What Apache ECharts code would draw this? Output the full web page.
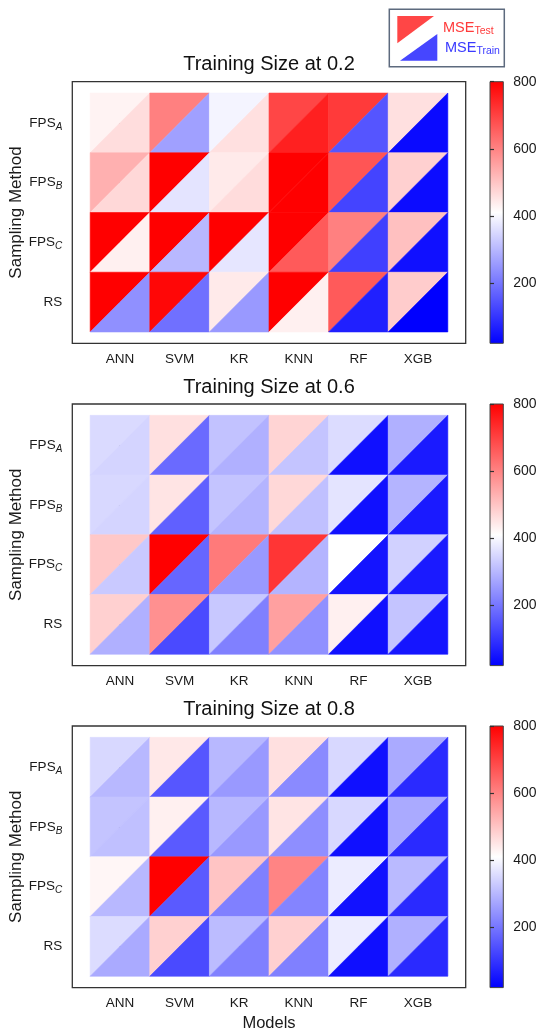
<!DOCTYPE html>
<html>
<head>
<meta charset="utf-8">
<script src="https://cdn.jsdelivr.net/npm/echarts@6/dist/echarts.min.js"></script>
<style>
html,body{margin:0;padding:0;background:#fff;}
#chart{width:542px;height:1030px;}
</style>
</head>
<body>
<div id="chart"></div>
<script>
// ---------- data ----------
const models = ['ANN', 'SVM', 'KR', 'KNN', 'RF', 'XGB'];
const methods = ['FPS_A', 'FPS_B', 'FPS_C', 'RS']; // top to bottom
const colorbarTicks = [200, 400, 600, 800];
const panelTitles = ['Training Size at 0.2', 'Training Size at 0.6', 'Training Size at 0.8'];
const valueMin = 20;
const valueMax = 800;

// rows follow methods order, columns follow models order
const test02 = [
  [428, 604, 393, 693, 711, 457],
  [531, 800, 442, 800, 670, 482],
  [800, 800, 800, 800, 604, 506],
  [800, 790, 442, 800, 662, 488]
];
const train02 = [
  [462, 265, 457, 751, 150, 36],
  [470, 369, 464, 800, 124, 38],
  [433, 302, 372, 662, 118, 45],
  [240, 192, 254, 433, 69, 20]
];
const test06 = [
  [353, 457, 317, 476, 357, 289],
  [350, 451, 320, 470, 369, 295],
  [494, 800, 613, 719, 410, 340],
  [482, 580, 326, 555, 433, 320]
];
const train06 = [
  [344, 182, 289, 320, 45, 59],
  [344, 167, 295, 314, 45, 59],
  [328, 176, 254, 295, 51, 59],
  [289, 133, 215, 240, 45, 52]
];
const test08 = [
  [350, 445, 302, 457, 350, 280],
  [320, 433, 302, 451, 350, 280],
  [424, 800, 500, 598, 381, 305],
  [357, 482, 307, 482, 381, 289]
];
const train08 = [
  [302, 152, 254, 231, 45, 84],
  [314, 157, 254, 237, 45, 84],
  [302, 157, 215, 222, 48, 84],
  [280, 133, 215, 215, 43, 84]
];
const panelTest = [test02, test06, test08];
const panelTrain = [train02, train06, train08];

// ---------- layout ----------
const FONT = 'Liberation Sans, Arial, sans-serif';
const panelTops = [81.7, 404, 726];
const panelH = 261.6;
const frameLeft = 72.3, frameW = 393.4;
const cbLeft = 490, cbW = 13.3;
const TXT = '#1a1a1a';
const AX = '#333333';

function buildCells(test, train) {
  const out = [];
  methods.forEach((m, r) => {
    const y = methods.length - 1 - r;
    models.forEach((md, c) => {
      out.push([c, y, test[r][c], 0]);
      out.push([c, y, train[r][c], 1]);
    });
  });
  return out;
}

function renderTri(params, api) {
  const x = api.value(0), y = api.value(1), kind = api.value(3);
  const tl = api.coord([x - 0.5, y + 0.5]);
  const tr = api.coord([x + 0.5, y + 0.5]);
  const bl = api.coord([x - 0.5, y - 0.5]);
  const br = api.coord([x + 0.5, y - 0.5]);
  const pts = kind === 0 ? [tl, tr, bl] : [tr, br, bl];
  const c = api.visual('color');
  return { type: 'polygon', shape: { points: pts }, style: { fill: c, stroke: c, lineWidth: 0.6 } };
}

function methodLabel(v) {
  const name = methods[methods.length - 1 - Math.round(v)];
  if (!name) return '';
  const parts = name.split('_');
  return parts.length > 1 ? '{m|' + parts[0] + '}{s|' + parts[1] + '}' : '{m|' + parts[0] + '}';
}

const grids = [], xAxes = [], yAxes = [], series = [], visualMaps = [], graphics = [];
const rowVals = methods.map((m, i) => i);
const colVals = models.map((m, i) => i);

panelTops.forEach((top, i) => {
  grids.push({ left: frameLeft, top: top, width: frameW, height: panelH, show: true,
    borderColor: AX, borderWidth: 1.3, backgroundColor: 'transparent',
    containLabel: false, outerBoundsMode: 'none' });
});
panelTops.forEach((top, i) => {
  grids.push({ left: cbLeft, top: top, width: cbW, height: panelH, show: true,
    borderColor: '#444', borderWidth: 1, containLabel: false, outerBoundsMode: 'none',
    backgroundColor: new echarts.graphic.LinearGradient(0, 1, 0, 0, [
      { offset: 0, color: '#0000ff' }, { offset: 0.5, color: '#ffffff' }, { offset: 1, color: '#ff0000' }
    ]) });
});

panelTops.forEach((top, i) => {
  xAxes.push({
    type: 'value', gridIndex: i, min: -0.8, max: 5.8,
    axisLine: { show: false },
    splitLine: { show: false },
    axisTick: { show: true, customValues: colVals, length: 4.5, lineStyle: { color: AX, width: 1.2 } },
    axisLabel: { show: true, customValues: colVals, margin: 9, color: TXT, fontFamily: FONT, fontSize: 13.5,
      formatter: v => models[Math.round(v)] || '' },
    name: i === 2 ? 'Models' : '', nameLocation: 'middle', nameGap: 27, nameMoveOverlap: false,
    nameTextStyle: { color: TXT, fontFamily: FONT, fontSize: 16.5 }
  });
  yAxes.push({
    type: 'value', gridIndex: i, min: -0.69, max: 3.69,
    axisLine: { show: false },
    splitLine: { show: false },
    axisTick: { show: true, customValues: rowVals, length: 4.5, lineStyle: { color: AX, width: 1.2 } },
    axisLabel: { show: true, customValues: rowVals, margin: 10, color: TXT, fontFamily: FONT,
      formatter: methodLabel,
      rich: {
        m: { fontSize: 13.5, fontFamily: FONT, color: TXT, lineHeight: 16 },
        s: { fontSize: 10, fontFamily: FONT, fontStyle: 'italic', color: TXT, lineHeight: 16, padding: [8, 0, 0, 0] }
      } },
    name: 'Sampling Method', nameLocation: 'middle', nameGap: 47, nameRotate: 90, nameMoveOverlap: false,
    nameTextStyle: { color: TXT, fontFamily: FONT, fontSize: 17 }
  });
});
panelTops.forEach((top, i) => {
  xAxes.push({ type: 'value', gridIndex: 3 + i, min: 0, max: 1, show: false });
  yAxes.push({
    type: 'value', gridIndex: 3 + i, min: valueMin, max: valueMax, position: 'right',
    axisLine: { show: false }, splitLine: { show: false },
    axisTick: { show: true, customValues: colorbarTicks, length: 4, lineStyle: { color: AX, width: 1.2 } },
    axisLabel: { show: true, customValues: colorbarTicks, margin: 10, color: TXT, fontFamily: FONT, fontSize: 14 }
  });
});

panelTops.forEach((top, i) => {
  series.push({
    type: 'custom', xAxisIndex: i, yAxisIndex: i,
    renderItem: renderTri,
    encode: { x: 0, y: 1 },
    dimensions: ['col', 'row', 'mse', 'kind'],
    data: buildCells(panelTest[i], panelTrain[i]),
    silent: true
  });
  visualMaps.push({
    type: 'continuous', show: false, seriesIndex: i, dimension: 2,
    min: valueMin, max: valueMax,
    inRange: { color: ['#0000ff', '#ffffff', '#ff0000'] }
  });
  graphics.push({
    type: 'text', x: frameLeft + frameW / 2, y: top - 17,
    style: { text: panelTitles[i], fontFamily: FONT, fontSize: 20, fill: '#111',
      align: 'center', verticalAlign: 'middle' }
  });
});

// legend box (top right)
graphics.push(
  { type: 'rect', shape: { x: 389.3, y: 9.3, width: 115, height: 57.4 },
    style: { fill: '#fff', stroke: '#5d6a7e', lineWidth: 1.5 } },
  { type: 'polygon', shape: { points: [[397.3, 16], [434, 16], [397.3, 43.3]] }, style: { fill: '#ff4646' } },
  { type: 'polygon', shape: { points: [[437.3, 34], [437.3, 60.7], [400, 60.7]] }, style: { fill: '#4646ff' } },
  { type: 'text', x: 443, y: 28,
    style: { text: '{a|MSE}{b|Test}', verticalAlign: 'middle',
      rich: { a: { fontSize: 14.5, fontFamily: FONT, fill: '#ff3a3a', lineHeight: 16 },
              b: { fontSize: 10.5, fontFamily: FONT, fill: '#ff3a3a', lineHeight: 16, padding: [7, 0, 0, 0] } } } },
  { type: 'text', x: 445, y: 47.5,
    style: { text: '{a|MSE}{b|Train}', verticalAlign: 'middle',
      rich: { a: { fontSize: 14.5, fontFamily: FONT, fill: '#3a3aff', lineHeight: 16 },
              b: { fontSize: 10.5, fontFamily: FONT, fill: '#3a3aff', lineHeight: 16, padding: [7, 0, 0, 0] } } } }
);

const chart = echarts.init(document.getElementById('chart'), null, { renderer: 'canvas' });
chart.setOption({
  backgroundColor: '#ffffff',
  animation: false,
  grid: grids,
  xAxis: xAxes,
  yAxis: yAxes,
  visualMap: visualMaps,
  series: series,
  graphic: graphics
});
</script>
</body>
</html>
